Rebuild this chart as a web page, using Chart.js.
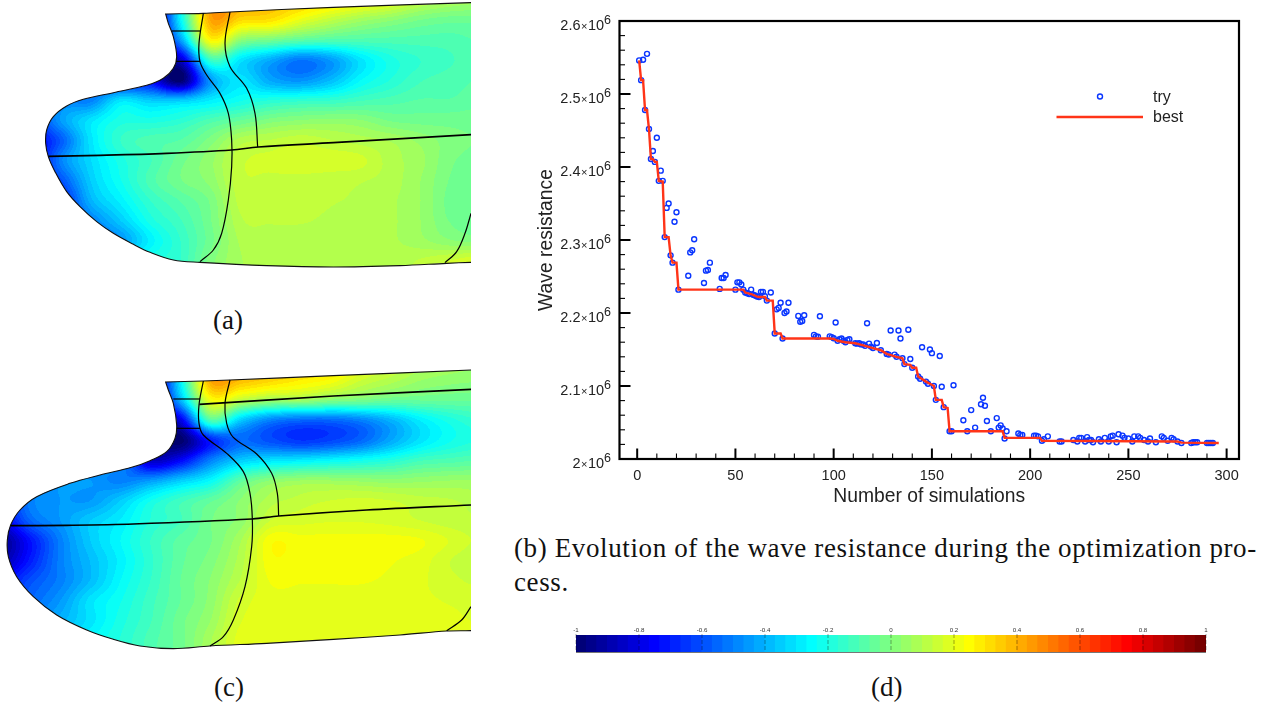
<!DOCTYPE html>
<html>
<head>
<meta charset="utf-8">
<style>
  html, body { margin: 0; padding: 0; background: #fff; }
  body { position: relative; width: 1282px; height: 706px; overflow: hidden; }
  canvas { position: absolute; }
  .cap { position: absolute; font-family: "Liberation Serif", serif; font-size: 27px; color: #111; white-space: nowrap; line-height: 30px; }
</style>
<script src="https://cdn.jsdelivr.net/npm/chart.js@4"></script>
</head>
<body>
<canvas id="hullA" width="471" height="280" style="left:0;top:0"></canvas>
<canvas id="hullC" width="471" height="300" style="left:0;top:360px"></canvas>
<canvas id="history" width="730" height="510" style="left:520px;top:0"></canvas>
<canvas id="colorBar" width="660" height="40" style="left:560px;top:620px"></canvas>
<div class="cap" style="left:213px;top:305px">(a)</div>
<div class="cap" style="left:214px;top:672px">(c)</div>
<div class="cap" style="left:871px;top:672px">(d)</div>
<div class="cap" style="left:514px;top:533px;letter-spacing:0.62px">(b) Evolution of the wave resistance during the optimization pro-</div>
<div class="cap" style="left:514px;top:567px;letter-spacing:0.62px">cess.</div>
<script>
// panel (b): every simulation tried
const tryX = [1,2,3,4,5,6,7,8,9,10,11,12,13,14,15,16,17,18,19,20,21,26,27,28,29,34,35,36,37,42,43,44,45,
  50,51,52,53,54,55,56,57,58,59,60,61,62,63,64,65,66,68,70,71,72,73,74,75,76,77,82,83,84,85,90,91,92,93,
  98,99,100,101,102,103,104,105,106,107,108,111,112,113,114,115,116,117,118,119,120,122,124,127,128,129,
  131,132,133,134,135,136,138,139,140,143,144,145,147,148,149,150,151,152,154,155,156,159,160,161,166,168,
  170,172,175,176,177,178,180,183,184,185,186,187,188,194,195,196,202,203,204,206,207,209,215,216,222,224,
  225,226,228,229,230,231,232,235,236,238,240,241,242,244,245,247,248,250,252,253,255,256,258,260,261,264,
  267,268,270,272,273,275,277,282,283,284,285,290,291,292,293];
const tryY = [2.546,2.519,2.547,2.478,2.555,2.452,2.411,2.422,2.407,2.440,2.381,2.395,2.381,2.304,2.344,2.350,2.279,2.269,2.325,2.338,2.232,2.251,2.283,2.286,2.301,2.241,2.258,2.259,2.269,2.233,2.248,2.248,2.252,
  2.232,2.242,2.242,2.239,2.232,2.228,2.227,2.226,2.232,2.225,2.224,2.2225,2.222,2.229,2.229,2.223,2.217,2.228,2.172,2.205,2.207,2.214,2.165,2.200,2.202,2.214,2.196,2.188,2.189,2.197,2.170,2.168,2.1675,2.1955,
  2.168,2.167,2.1655,2.187,2.162,2.164,2.165,2.162,2.160,2.163,2.164,2.1585,2.158,2.1585,2.157,2.157,2.155,2.186,2.158,2.154,2.152,2.159,2.149,2.144,2.143,2.176,
  2.143,2.140,2.176,2.165,2.138,2.130,2.177,2.137,2.125,2.113,2.110,2.153,2.106,2.103,2.150,2.145,2.100,2.081,2.141,2.099,2.071,2.038,2.038,2.101,2.053,2.038,
  2.067,2.043,2.075,2.084,2.073,2.052,2.038,2.056,2.043,2.046,2.042,2.028,2.038,2.035,2.033,2.033,2.032,2.032,2.031,2.025,2.027,2.031,2.024,2.024,2.026,2.024,
  2.029,2.029,2.024,2.030,2.026,2.026,2.023,2.027,2.024,2.029,2.024,2.031,2.032,2.023,2.034,2.032,2.029,2.028,2.024,2.031,2.031,2.029,2.026,2.024,2.028,2.023,
  2.031,2.029,2.025,2.029,2.027,2.024,2.022,2.022,2.023,2.023,2.023,2.022,2.022,2.022,2.022];
const bestX = [1,2,3,4,5,6,7,8,9,10,11,13,14,16,17,18,20,21,54,55,58,61,62,65,66,69,70,73,74,98,100,102,106,111,116,120,124,127,132,135,136,139,140,142,143,147,151,152,155,156,158,159,186,187,205,206,275,277,296];
const bestY = [2.546,2.519,2.519,2.478,2.478,2.452,2.411,2.411,2.407,2.407,2.381,2.380,2.304,2.304,2.279,2.269,2.269,2.232,2.232,2.228,2.226,2.2225,2.222,2.222,2.217,2.217,2.172,2.172,2.165,2.165,2.1645,2.162,2.160,2.1585,2.155,2.152,2.149,2.144,2.140,2.138,2.130,2.129,2.125,2.125,2.113,2.106,2.100,2.081,2.081,2.071,2.070,2.038,2.038,2.029,2.029,2.025,2.024,2.0225,2.022];
const xTickValues = [0,50,100,150,200,250,300];
const yTickMantissas = ["2","2.1","2.2","2.3","2.4","2.5","2.6"];

// colour bar levels and its tick values
const barLevels = [-0.983,-0.95,-0.917,-0.883,-0.85,-0.817,-0.783,-0.75,-0.717,-0.683,-0.65,-0.617,-0.583,-0.55,-0.517,-0.483,-0.45,-0.417,-0.383,-0.35,-0.317,-0.283,-0.25,-0.217,-0.183,-0.15,-0.117,-0.083,-0.05,-0.017,
  0.017,0.05,0.083,0.117,0.15,0.183,0.217,0.25,0.283,0.317,0.35,0.383,0.417,0.45,0.483,0.517,0.55,0.583,0.617,0.65,0.683,0.717,0.75,0.783,0.817,0.85,0.883,0.917,0.95,0.983];
const jetStops = [[-1,0,0,110],[-0.75,0,0,255],[-0.25,0,255,255],[0.25,255,255,0],[0.75,255,0,0],[1,110,0,0]];

// hull outlines and patch lines, (a) then (c), in 3x image units
const hullAOutline = [[1413,8],[1000,22],[690,36],[610,40],[497,42],[497,42],[505,70],[520,110],[530,170],[520,205],[490,235],[440,256],[340,278],[250,298],[200,318],[160,350],[140,390],[137,430],[145,470],[165,515],[200,575],[240,620],[290,665],[340,700],[400,733],[450,757],[520,780],[600,787],[800,797],[1000,801],[1200,797],[1340,790],[1413,787]];
const hullALines = [
  [[145,469],[300,466],[500,460],[695,450],[775,441],[1000,428],[1413,404]],
  [[610,40],[597,130],[600,185],[620,225],[660,280],[685,340],[695,420],[695,500],[685,600],[665,700],[640,750],[600,785]],
  [[690,36],[675,130],[690,200],[740,265],[765,340],[773,441]],
  [[515,93],[600,93]],
  [[528,184],[600,184]],
  [[1413,640],[1395,700],[1370,755],[1335,788]]
];
const hullCOutline = [[1413,30],[1000,47],[690,60],[610,63],[497,66],[497,66],[505,90],[520,130],[530,195],[525,235],[500,275],[450,302],[395,322],[300,345],[210,370],[110,410],[60,450],[32,495],[22,540],[25,590],[50,650],[100,710],[170,765],[260,810],[340,838],[420,858],[520,866],[630,858],[800,850],[1000,838],[1200,825],[1340,813],[1413,812]];
const hullCLines = [
  [[32,497],[200,496],[400,492],[757,477],[836,468],[1100,450],[1413,435]],
  [[610,63],[597,135],[597,190],[610,225],[680,280],[730,335],[750,400],[757,477],[755,560],[735,680],[700,780],[670,830],[630,858]],
  [[690,60],[675,130],[680,190],[700,232],[770,282],[815,340],[832,400],[836,468]],
  [[520,117],[600,117]],
  [[530,205],[600,205]],
  [[598,133],[1000,108],[1413,88]],
  [[1413,740],[1385,780],[1340,812]]
];

// pressure field samples x100, columns every 30 px, rows every 20 px
const fieldA = [
  [-80,-80,-60,-50,-40,-90,-27,45,42,38,35,30,25,20,12,8,6],
  [-80,-80,-60,-50,-40,-90,-27,42,32,30,20,12,6,2,-2,-4,-4],
  [-80,-80,-60,-50,-50,-90,-45,25,2,-3,-8,-10,-10,-10,-10,-10,-8],
  [-80,-80,-60,-60,-70,-85,-85,-15,-30,-42,-52,-45,-30,-20,-15,-12,-10],
  [-80,-80,-60,-60,-70,-75,-100,-45,-30,-42,-46,-38,-25,-18,-12,-10,-8],
  [-80,-70,-50,-50,-30,-35,-35,-28,-22,-18,-16,-15,-12,-10,-8,-8,-6],
  [-90,-70,-45,-30,-20,-20,-17,-10,-5,0,2,3,2,-2,-3,-3,-3],
  [-95,-80,-58,-30,-15,-10,-8,0,10,12,14,12,10,8,4,0,-2],
  [-95,-85,-50,-32,-20,-12,-3,4,14,16,17,17,16,10,6,-1,-3],
  [-90,-80,-60,-35,-22,-10,-2,3,14,14,14,13,12,10,5,-2,-4],
  [-85,-80,-70,-40,-27,-15,-8,-1,13,13,13,12,11,9,5,-3,-5],
  [-80,-75,-65,-50,-35,-20,-12,-2,11,12,12,11,10,9,5,-2,-4],
  [-70,-65,-60,-55,-45,-27,-15,-3,9,10,10,10,10,9,6,2,0],
  [-60,-60,-50,-45,-30,-20,-15,0,8,10,10,10,10,10,12,15,18],
  [-60,-60,-50,-45,-30,-20,-15,0,8,10,10,10,10,10,12,15,18]
];
const fieldC = [
  [-80,-80,-60,-50,-40,-90,-27,45,42,38,34,30,22,16,10,8,6],
  [-80,-80,-60,-50,-40,-90,-27,42,38,33,28,24,15,10,5,3,2],
  [-80,-80,-60,-50,-50,-90,-40,22,12,5,5,0,-2,-5,-5,-5,-5],
  [-80,-80,-60,-60,-70,-90,-80,-10,-35,-50,-55,-55,-50,-40,-28,-20,-15],
  [-80,-80,-60,-60,-80,-90,-100,-70,-55,-60,-65,-62,-55,-42,-30,-22,-18],
  [-70,-65,-50,-50,-50,-85,-75,-50,-35,-30,-28,-25,-22,-18,-12,-10,-8],
  [-65,-55,-45,-45,-50,-45,-35,-25,-7,2,5,5,4,3,4,5,5],
  [-70,-50,-45,-45,-35,-22,-13,-6,2,10,13,15,16,15,13,12,10],
  [-80,-55,-45,-35,-28,-18,-12,-2,3,15,17,18,18,17,15,13,12],
  [-95,-72,-50,-35,-25,-15,-7,-2,8,24,23,23,23,23,22,18,14],
  [-90,-70,-50,-38,-27,-16,-6,0,10,24,23,23,23,22,20,15,12],
  [-75,-60,-50,-38,-25,-15,-5,2,12,22,22,22,22,21,19,16,14],
  [-65,-55,-45,-30,-22,-13,-5,3,16,20,20,20,20,20,19,18,17],
  [-60,-50,-40,-30,-20,-12,-3,5,18,19,19,19,19,19,19,19,18],
  [-50,-45,-35,-25,-18,-10,-3,8,20,20,20,20,20,20,20,20,20],
  [-50,-45,-35,-25,-18,-10,-3,8,20,20,20,20,20,20,20,20,20]
];

const SANS = '"Liberation Sans", Arial, sans-serif';

function jet(v) {
  v = Math.max(-1, Math.min(1, v));
  for (let i = 1; i < jetStops.length; i++) {
    const a = jetStops[i - 1], b = jetStops[i];
    if (v <= b[0]) {
      const t = (v - a[0]) / (b[0] - a[0]);
      return [a[1] + t * (b[1] - a[1]), a[2] + t * (b[2] - a[2]), a[3] + t * (b[3] - a[3])];
    }
  }
  return jetStops[jetStops.length - 1].slice(1);
}

function catmull(p0, p1, p2, p3, t) {
  return 0.5 * (2 * p1 + (p2 - p0) * t + (2 * p0 - 5 * p1 + 4 * p2 - p3) * t * t + (3 * p1 - p0 - 3 * p2 + p3) * t * t * t);
}

function sampleField(field, gx, gy) {
  const cols = field[0].length, rows = field.length;
  const ix = Math.min(cols - 2, Math.floor(gx)), iy = Math.min(rows - 2, Math.floor(gy));
  const at = (r, c) => field[Math.max(0, Math.min(rows - 1, r))][Math.max(0, Math.min(cols - 1, c))];
  const line = [];
  for (let r = -1; r <= 2; r++) {
    line.push(catmull(at(iy + r, ix - 1), at(iy + r, ix), at(iy + r, ix + 1), at(iy + r, ix + 2), gx - ix));
  }
  return catmull(line[0], line[1], line[2], line[3], gy - iy) / 100;
}

// banded contour picture of a field, used as the fill pattern of the hull
function fieldPattern(field, w, h) {
  const off = document.createElement("canvas");
  off.width = w; off.height = h;
  const g = off.getContext("2d");
  const img = g.createImageData(w, h);
  for (let y = 0; y < h; y++) {
    for (let x = 0; x < w; x++) {
      const v = sampleField(field, x / 30, y / 20);
      const c = jet(Math.round((v + 1) * 30) / 30 - 1);
      const i = (y * w + x) * 4;
      img.data[i] = c[0]; img.data[i + 1] = c[1]; img.data[i + 2] = c[2]; img.data[i + 3] = 255;
    }
  }
  g.putImageData(img, 0, 0);
  return g.createPattern(off, "no-repeat");
}

const toPoints = (pairs) => pairs.map((p) => ({ x: p[0], y: p[1] }));

function hullChart(id, outline, lines, field, w, h) {
  const datasets = [{
    data: toPoints(outline), showLine: true, pointRadius: 0, tension: 0.35, order: 2,
    fill: "shape", backgroundColor: fieldPattern(field, w, h), borderColor: "#111", borderWidth: 1.1,
  }];
  lines.forEach((l, i) => {
    datasets.push({
      data: toPoints(l), showLine: true, pointRadius: 0, tension: 0.35, order: 1, fill: false,
      borderColor: "#000", borderWidth: (i === 0 || (lines.length === 7 && i === 5)) ? 1.7 : 1.2,
    });
  });
  new Chart(document.getElementById(id), {
    type: "scatter",
    data: { datasets },
    options: {
      responsive: false, animation: false, devicePixelRatio: 1,
      plugins: { legend: { display: false }, tooltip: { enabled: false } },
      scales: {
        x: { type: "linear", display: false, min: 0, max: w * 3 },
        y: { type: "linear", display: false, min: 0, max: h * 3, reverse: true },
      },
    },
  });
}

hullChart("hullA", hullAOutline, hullALines, fieldA, 471, 280);
hullChart("hullC", hullCOutline, hullCLines, fieldC, 471, 300);

// frame, inward ticks, y labels with raised exponent and the little legend of panel (b)
const tecplotFrame = {
  id: "tecplotFrame",
  afterDatasetsDraw(chart) {
    const { ctx, chartArea: a, scales } = chart;
    ctx.save();
    ctx.strokeStyle = "#000";
    scales.x.ticks.forEach((t) => {
      const major = xTickValues.includes(t.value);
      const px = scales.x.getPixelForValue(t.value);
      ctx.lineWidth = major ? 2 : 1.1;
      ctx.beginPath();
      ctx.moveTo(px, a.bottom);
      ctx.lineTo(px, a.bottom - (major ? 10.5 : 5.5));
      ctx.stroke();
    });
    ctx.fillStyle = "#222";
    ctx.textBaseline = "alphabetic";
    scales.y.ticks.forEach((t) => {
      const k = t.value * 10 - 20;
      const major = Math.abs(k - Math.round(k)) < 1e-6;
      const py = scales.y.getPixelForValue(t.value);
      ctx.lineWidth = major ? 2 : 1.1;
      ctx.beginPath();
      ctx.moveTo(a.left, py);
      ctx.lineTo(a.left + (major ? 11 : 5.5), py);
      ctx.stroke();
      if (major) {
        // right edge of the label sits 8.5px left of the frame
        const base = py + 8.5;
        let x = a.left - 8.5;
        const piece = (text, size, dy) => {
          ctx.font = size + "px " + SANS;
          x -= ctx.measureText(text).width;
          ctx.fillText(text, x, base + dy);
        };
        piece("6", 12.5, -5.5);
        piece("10", 14.5, 0);
        x -= 0.5;
        piece("×", 11, 0);
        x -= 0.5;
        piece(yTickMantissas[Math.round(k)], 14.5, 0);
      }
    });
    ctx.lineWidth = 2.2;
    ctx.strokeRect(a.left, a.top, a.right - a.left, a.bottom - a.top);

    // legend
    const lx = a.left, ty = 96.5, by = 117;
    const [tryDs, bestDs] = chart.data.datasets;
    ctx.beginPath();
    ctx.lineWidth = tryDs.pointBorderWidth;
    ctx.strokeStyle = tryDs.pointBorderColor;
    ctx.arc(lx + 480.5, ty, tryDs.pointRadius, 0, Math.PI * 2);
    ctx.stroke();
    ctx.beginPath();
    ctx.lineWidth = bestDs.borderWidth;
    ctx.strokeStyle = bestDs.borderColor;
    ctx.moveTo(lx + 437, by);
    ctx.lineTo(lx + 523.5, by);
    ctx.stroke();
    ctx.fillStyle = "#222";
    ctx.font = "16px " + SANS;
    ctx.textBaseline = "middle";
    ctx.fillText(tryDs.label, lx + 533.5, ty + 1);
    ctx.fillText(bestDs.label, lx + 533.5, by + 1);
    ctx.restore();
  },
};

new Chart(document.getElementById("history"), {
  type: "scatter",
  data: {
    datasets: [
      {
        label: "try", order: 2,
        data: tryX.map((x, i) => ({ x, y: tryY[i] })),
        pointStyle: "circle", pointRadius: 2.5, pointBorderWidth: 1.4,
        pointBackgroundColor: "rgba(0,0,0,0)", pointBorderColor: "#0a36ff",
      },
      {
        label: "best", order: 1,
        data: bestX.map((x, i) => ({ x, y: bestY[i] })),
        showLine: true, pointRadius: 0, borderColor: "#ff3418", borderWidth: 2.4, fill: false,
      },
    ],
  },
  options: {
    responsive: false, animation: false, devicePixelRatio: 1,
    layout: { padding: { top: 21, right: 11, left: 0, bottom: 0 } },
    plugins: { legend: { display: false }, tooltip: { enabled: false } },
    scales: {
      x: {
        type: "linear", min: -9, max: 306.3,
        afterFit: (s) => { s.height = 51; },
        grid: { display: false, drawTicks: false },
        border: { display: false },
        title: { display: true, text: "Number of simulations", color: "#222", font: { family: SANS, size: 19.3 }, padding: { top: 0, bottom: 2 } },
        ticks: {
          stepSize: 10, includeBounds: false, autoSkip: false, maxRotation: 0, padding: 8,
          color: "#222", font: { family: SANS, size: 14.5 },
          callback: (v) => (xTickValues.includes(v) ? String(v) : ""),
        },
      },
      y: {
        type: "linear", min: 2, max: 2.6,
        afterFit: (s) => { s.width = 99.5; },
        grid: { display: false, drawTicks: false },
        border: { display: false },
        title: { display: true, text: "Wave resistance", color: "#222", font: { family: SANS, size: 19.3 }, padding: { top: 15, bottom: 0 } },
        ticks: { display: false, stepSize: 0.02, autoSkip: false },
      },
    },
  },
  plugins: [tecplotFrame],
});

// colour bar (d)
const barTicks = {
  id: "barTicks",
  afterDatasetsDraw(chart) {
    const { ctx, chartArea: a, scales } = chart;
    ctx.save();
    ctx.strokeStyle = "rgba(0,0,0,0.45)";
    ctx.lineWidth = 0.8;
    ctx.setLineDash([4, 2]);
    scales.x.ticks.forEach((t) => {
      const px = scales.x.getPixelForValue(t.value);
      ctx.beginPath();
      ctx.moveTo(px, a.top - 1);
      ctx.lineTo(px, a.bottom);
      ctx.stroke();
    });
    ctx.setLineDash([]);
    ctx.strokeStyle = "#777";
    ctx.lineWidth = 1;
    ctx.beginPath();
    ctx.moveTo(a.left, a.bottom + 0.5);
    ctx.lineTo(a.right, a.bottom + 0.5);
    ctx.stroke();
    ctx.restore();
  },
};

new Chart(document.getElementById("colorBar"), {
  type: "bar",
  data: {
    datasets: [{
      data: barLevels.map((v) => ({ x: v, y: 1 })),
      backgroundColor: barLevels.map((v) => {
        const c = jet(v);
        return "rgb(" + c.map(Math.round).join(",") + ")";
      }),
      barThickness: 11, borderWidth: 0,
    }],
  },
  options: {
    responsive: false, animation: false, devicePixelRatio: 1,
    layout: { padding: { left: 16, right: 14, top: 0, bottom: 8 } },
    plugins: { legend: { display: false }, tooltip: { enabled: false } },
    scales: {
      x: {
        type: "linear", position: "top", min: -1, max: 1, offset: false,
        afterFit: (s) => { s.height = 15; },
        grid: { display: false, drawTicks: false }, border: { display: false },
        ticks: {
          stepSize: 0.2, autoSkip: false, maxRotation: 0, padding: 1,
          color: "#333", font: { family: SANS, size: 6.2 },
          callback: (v) => String(Math.round(v * 10) / 10),
        },
      },
      y: { display: false, min: 0, max: 1 },
    },
  },
  plugins: [barTicks],
});
</script>
</body>
</html>
